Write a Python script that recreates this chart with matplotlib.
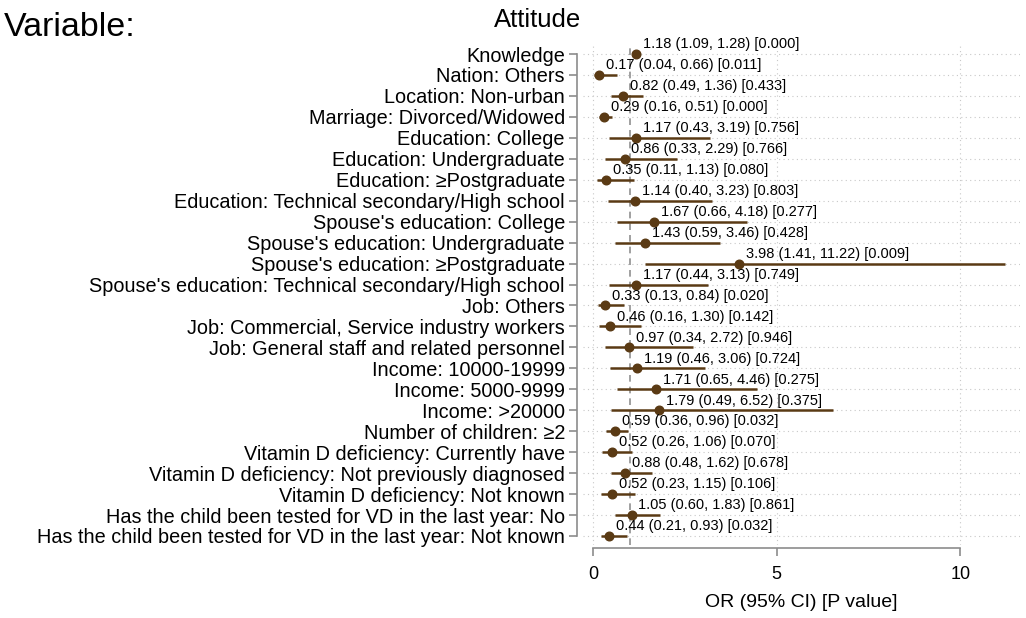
import matplotlib
matplotlib.use("Agg")
from matplotlib import pyplot as plt
import numpy as np

plt.rcParams['font.family'] = ['Liberation Sans', 'DejaVu Sans']

# 変数名とオッズ比
labels = [
    "Knowledge",
    "Nation: Others",
    "Location: Non-urban",
    "Marriage: Divorced/Widowed",
    "Education: College",
    "Education: Undergraduate",
    "Education: \u2265Postgraduate",
    "Education: Technical secondary/High school",
    "Spouse's education: College",
    "Spouse's education: Undergraduate",
    "Spouse's education: \u2265Postgraduate",
    "Spouse's education: Technical secondary/High school",
    "Job: Others",
    "Job: Commercial, Service industry workers",
    "Job: General staff and related personnel",
    "Income: 10000-19999",
    "Income: 5000-9999",
    "Income: >20000",
    "Number of children: \u22652",
    "Vitamin D deficiency: Currently have",
    "Vitamin D deficiency: Not previously diagnosed",
    "Vitamin D deficiency: Not known",
    "Has the child been tested for VD in the last year: No",
    "Has the child been tested for VD in the last year: Not known",
]
odds = [1.18, 0.17, 0.82, 0.29, 1.17, 0.86, 0.35, 1.14, 1.67, 1.43, 3.98, 1.17,
        0.33, 0.46, 0.97, 1.19, 1.71, 1.79, 0.59, 0.52, 0.88, 0.52, 1.05, 0.44]
ci_low = [1.09, 0.04, 0.49, 0.16, 0.43, 0.33, 0.11, 0.40, 0.66, 0.59, 1.41, 0.44,
          0.13, 0.16, 0.34, 0.46, 0.65, 0.49, 0.36, 0.26, 0.48, 0.23, 0.60, 0.21]
ci_high = [1.28, 0.66, 1.36, 0.51, 3.19, 2.29, 1.13, 3.23, 4.18, 3.46, 11.22, 3.13,
           0.84, 1.30, 2.72, 3.06, 4.46, 6.52, 0.96, 1.06, 1.62, 1.15, 1.83, 0.93]
pvals = ["0.000", "0.011", "0.433", "0.000", "0.756", "0.766", "0.080", "0.803",
         "0.277", "0.428", "0.009", "0.749", "0.020", "0.142", "0.946", "0.724",
         "0.275", "0.375", "0.032", "0.070", "0.678", "0.106", "0.861", "0.032"]
xticks = [0, 5, 10]

brown = "#5a3a14"
gray = "#8c8c8c"

fig = plt.figure(figsize=(10.26, 6.18), dpi=100)
ax = fig.add_axes([583 / 1026, 1 - 545 / 618, 437 / 1026, 500 / 618])

rows = np.arange(len(labels))

#グリッド
for r in rows:
    ax.axhline(r, color="#c8c8c8", lw=0.8, ls=(0, (1, 3)), zorder=0)
for t in xticks:
    ax.axvline(t, color="#c8c8c8", lw=0.8, ls=(0, (1, 3)), zorder=0)
ax.axvline(1, color="#909090", lw=1.2, ls=(0, (4, 3)), zorder=1)

ax.hlines(rows, ci_low, ci_high, color=brown, lw=1.8, zorder=2)
ax.plot(odds, rows, "o", color=brown, ms=6.2, zorder=3)

for r in rows:
    txt = "%.2f (%.2f, %.2f) [%s]" % (odds[r], ci_low[r], ci_high[r], pvals[r])
    ax.annotate(txt, (odds[r], r), xytext=(5, 7), textcoords="offset points",
                fontsize=10.5, va="center", ha="left", color="black", zorder=4)

ax.set_xlim(-0.27, 11.62)
ax.set_ylim(23.43, -0.43)

for s in ["top", "right"]:
    ax.spines[s].set_visible(False)
ax.spines["left"].set_position(("outward", 4))
ax.spines["left"].set_bounds(0, 23)
ax.spines["bottom"].set_position(("outward", 2))
ax.spines["bottom"].set_bounds(0, 10)
for s in ["left", "bottom"]:
    ax.spines[s].set_color(gray)
    ax.spines[s].set_linewidth(1.2)
ax.tick_params(axis="both", color=gray, width=1.2, length=6)
ax.tick_params(axis="y", pad=3, labelsize=14.3)
ax.tick_params(axis="x", pad=7, labelsize=13)

ax.set_yticks(rows)
ax.set_yticklabels(labels, fontsize=14.3)
ax.set_xticks(xticks)
ax.set_xticklabels([str(t) for t in xticks], fontsize=13)
ax.set_xlabel("OR (95% CI) [P value]", fontsize=14, labelpad=8)

fig.text(4 / 1026, 1 - 36 / 618, "Variable:", fontsize=24.5, va="baseline", ha="left")
fig.text(538 / 1026, 1 - 27 / 618, "Attitude", fontsize=18.5, va="baseline", ha="center")

plt.savefig("out.png", dpi=100)
